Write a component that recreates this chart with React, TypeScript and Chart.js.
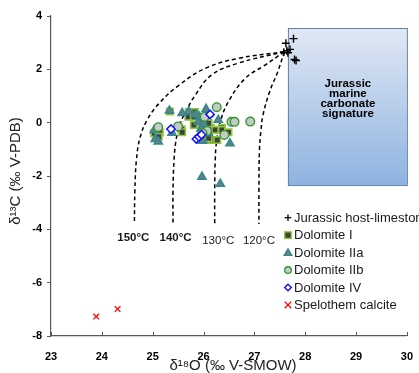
import { useEffect, useRef } from 'react';
import { Chart, registerables } from 'chart.js';
Chart.register(...registerables);

const xRange = [23, 30];
const yRange = [-8, 4];

const limestone = [[27.77, 3.15], [27.62, 2.98], [27.64, 2.70], [27.58, 2.64], [27.70, 2.75], [27.66, 2.62], [27.82, 2.33], [27.79, 2.37]];
const dolomiteI = [[25.34, 0.42], [25.71, 0.40], [25.83, 0.40], [25.70, 0.22], [25.81, 0.22], [25.81, -0.09], [25.93, 0.05], [25.03, -0.40], [25.14, -0.36], [25.12, -0.53], [25.57, -0.25], [25.58, -0.36], [26.14, -0.19], [26.23, -0.27], [26.36, -0.19], [26.36, -0.27], [26.49, -0.36], [26.04, -0.65], [26.16, -0.65], [26.27, -0.65], [26.10, -0.59], [26.00, -0.15], [25.90, -0.62], [26.10, -0.02]];
const dolomiteIIa = [[25.33, 0.45], [25.58, 0.36], [25.71, 0.42], [25.84, 0.30], [26.05, 0.51], [25.92, 0.22], [25.97, 0.10], [26.29, 0.10], [25.90, 0.02], [26.00, -0.05], [25.05, -0.62], [25.11, -0.71], [25.38, -0.38], [25.95, -0.22], [25.93, -0.48], [25.98, -0.68], [26.52, -0.78], [25.97, -2.03], [26.33, -2.30], [25.03, -0.28], [26.10, -0.40]];
const dolomiteIIb = [[26.26, 0.58], [26.55, 0.03], [26.61, 0.03], [26.92, 0.04], [25.11, -0.17], [25.50, -0.14], [26.41, -0.46], [26.07, -0.31], [26.02, 0.22], [25.98, -0.40]];
const dolomiteIV = [[26.13, 0.31], [25.36, -0.24], [25.86, -0.61], [25.91, -0.53], [25.96, -0.45]];
const speleothem = [[23.89, -7.27], [24.31, -6.99]];

const curve150 = [[27.59, 2.66], [26.68, 2.41], [26.04, 2.04], [25.52, 1.41], [25.13, 0.73], [24.89, 0.10], [24.75, -0.57], [24.68, -1.40], [24.65, -2.52], [24.64, -3.80]];
const curve140 = [[27.59, 2.66], [26.68, 2.23], [26.16, 1.79], [25.84, 1.04], [25.65, 0.41], [25.53, -0.09], [25.46, -0.65], [25.42, -1.40], [25.40, -2.52], [25.40, -3.80]];
const curve130 = [[27.59, 2.66], [27.21, 2.16], [26.82, 1.66], [26.49, 0.79], [26.33, 0.04], [26.26, -0.65], [26.23, -1.40], [26.22, -2.52], [26.22, -3.80]];
const curve120 = [[27.59, 2.66], [27.46, 1.91], [27.30, 1.16], [27.17, 0.29], [27.13, -0.28], [27.10, -1.02], [27.09, -2.52], [27.09, -3.80]];

const tempLabels = ['150°C', '140°C', '130°C', '120°C'];
const tempLabelX = [24.62, 25.45, 26.29, 27.09];
const tempLabelY = [-4.31, -4.31, -4.44, -4.44];
const tempLabelBold = [true, true, false, false];

const boxX = [27.66, 30];
const boxY = [3.55, -2.34];
const boxLines = ['Jurassic', 'marine', 'carbonate', 'signature'];

const legendLabels = ['Jurassic host-limestone', 'Dolomite I', 'Dolomite IIa', 'Dolomite IIb', 'Dolomite IV', 'Spelothem calcite'];

const toXY = (a: number[][]) => a.map(([x, y]) => ({ x, y }));

const styles = {
  lime: { pointStyle: 'cross', pointRadius: 4, borderColor: '#000', backgroundColor: '#000', pointBorderWidth: 1.4 },
  d1: { pointStyle: 'rect', pointRadius: 4.6, borderColor: '#92c83e', backgroundColor: '#404040', pointBorderWidth: 1.6 },
  d2a: { pointStyle: 'triangle', pointRadius: 4.6, borderColor: '#2e8b94', backgroundColor: '#7a7a7a', pointBorderWidth: 1.6 },
  d2b: { pointStyle: 'circle', pointRadius: 4.3, borderColor: '#2e9a2e', backgroundColor: '#c8c8c8', pointBorderWidth: 1.4 },
  d4: { pointStyle: 'rectRot', pointRadius: 4.2, borderColor: '#1010ff', backgroundColor: '#ffffff', pointBorderWidth: 1.5 },
  sp: { pointStyle: 'crossRot', pointRadius: 4, borderColor: '#ff0000', backgroundColor: '#ff0000', pointBorderWidth: 1.3 },
};

function drawSymbol(ctx: CanvasRenderingContext2D, kind: string, x: number, y: number) {
  ctx.save();
  const r = 3.3;
  if (kind === 'lime') {
    ctx.strokeStyle = '#000'; ctx.lineWidth = 1.3;
    ctx.beginPath(); ctx.moveTo(x - r, y); ctx.lineTo(x + r, y); ctx.moveTo(x, y - r); ctx.lineTo(x, y + r); ctx.stroke();
  } else if (kind === 'd1') {
    ctx.fillStyle = '#404040'; ctx.strokeStyle = '#92c83e'; ctx.lineWidth = 1.4;
    ctx.fillRect(x - r, y - r, 2 * r, 2 * r); ctx.strokeRect(x - r, y - r, 2 * r, 2 * r);
  } else if (kind === 'd2a') {
    ctx.fillStyle = '#7a7a7a'; ctx.strokeStyle = '#2e8b94'; ctx.lineWidth = 1.4;
    ctx.beginPath(); ctx.moveTo(x, y - r - 0.5); ctx.lineTo(x + r + 0.5, y + r - 0.5); ctx.lineTo(x - r - 0.5, y + r - 0.5); ctx.closePath(); ctx.fill(); ctx.stroke();
  } else if (kind === 'd2b') {
    ctx.fillStyle = '#c8c8c8'; ctx.strokeStyle = '#2e9a2e'; ctx.lineWidth = 1.3;
    ctx.beginPath(); ctx.arc(x, y, r, 0, Math.PI * 2); ctx.fill(); ctx.stroke();
  } else if (kind === 'd4') {
    ctx.fillStyle = '#fff'; ctx.strokeStyle = '#1010ff'; ctx.lineWidth = 1.4;
    ctx.beginPath(); ctx.moveTo(x, y - r); ctx.lineTo(x + r, y); ctx.lineTo(x, y + r); ctx.lineTo(x - r, y); ctx.closePath(); ctx.fill(); ctx.stroke();
  } else if (kind === 'sp') {
    ctx.strokeStyle = '#ff0000'; ctx.lineWidth = 1.3;
    ctx.beginPath(); ctx.moveTo(x - r, y - r); ctx.lineTo(x + r, y + r); ctx.moveTo(x + r, y - r); ctx.lineTo(x - r, y + r); ctx.stroke();
  }
  ctx.restore();
}

const legendKinds = ['lime', 'd1', 'd2a', 'd2b', 'd4', 'sp'];

const decorPlugin = {
  id: 'decor',
  beforeDatasetsDraw(chart: any) {
    const { ctx, scales } = chart;
    const xs = scales.x, ys = scales.y;
    const l = xs.getPixelForValue(boxX[0]);
    const r = xs.getPixelForValue(boxX[1]);
    const t = ys.getPixelForValue(boxY[0]);
    const b = ys.getPixelForValue(boxY[1]);
    ctx.save();
    const g = ctx.createLinearGradient(0, t, 0, b);
    g.addColorStop(0, '#e1e8f4');
    g.addColorStop(1, '#8eb3e0');
    ctx.fillStyle = g;
    ctx.fillRect(l, t, r - l, b - t);
    ctx.strokeStyle = '#5f82ad';
    ctx.lineWidth = 1;
    ctx.strokeRect(l + 0.5, t + 0.5, r - l, b - t);
    ctx.fillStyle = '#000';
    ctx.font = 'bold 11.5px "Liberation Sans", Arial, sans-serif';
    ctx.textAlign = 'center';
    ctx.textBaseline = 'middle';
    const cx = (l + r) / 2;
    boxLines.forEach((s, i) => ctx.fillText(s, cx + 0.5, 83.5 + i * 10.2));
    ctx.restore();
  },
  afterDraw(chart: any) {
    const { ctx, scales } = chart;
    const xs = scales.x, ys = scales.y;
    ctx.save();
    // inward x tick marks
    ctx.strokeStyle = '#595959';
    ctx.lineWidth = 1;
    xs.ticks.forEach((tk: any) => {
      const px = Math.round(xs.getPixelForValue(tk.value)) + 0.5;
      ctx.beginPath(); ctx.moveTo(px, ys.bottom); ctx.lineTo(px, ys.bottom - 4); ctx.stroke();
    });
    // temperature labels
    ctx.fillStyle = '#1a1a1a';
    ctx.textAlign = 'center';
    ctx.textBaseline = 'middle';
    tempLabels.forEach((s, i) => {
      ctx.font = (tempLabelBold[i] ? 'bold ' : '') + '11.5px "Liberation Sans", Arial, sans-serif';
      ctx.fillText(s, xs.getPixelForValue(tempLabelX[i]), ys.getPixelForValue(tempLabelY[i]));
    });
    // legend
    ctx.textAlign = 'left';
    ctx.font = '13px "Liberation Sans", Arial, sans-serif';
    legendLabels.forEach((s, i) => {
      const y = 217.7 + i * 17.45;
      drawSymbol(ctx, legendKinds[i], 288, y);
      ctx.fillStyle = '#1a1a1a';
      ctx.fillText(s, 294, y + 0.5);
    });
    // axis titles
    ctx.fillStyle = '#222';
    ctx.font = '15px "Liberation Sans", Arial, sans-serif';
    ctx.textAlign = 'center';
    ctx.fillText('δ¹⁸O (‰ V-SMOW)', 233, 366);
    ctx.translate(16, 171);
    ctx.rotate(-Math.PI / 2);
    ctx.fillText('δ¹³C (‰ V-PDB)', 0, 0);
    ctx.restore();
  },
};

const curveDs = (data: number[][]) => ({
  type: 'line',
  data: toXY(data),
  borderColor: '#000',
  borderWidth: 1.5,
  borderDash: [4, 3],
  pointRadius: 0,
  tension: 0.4,
  fill: false,
  order: 10,
});

export default function App() {
  const ref = useRef<HTMLCanvasElement>(null);
  useEffect(() => {
    document.body.style.margin = '0';
    const chart = new Chart(ref.current as HTMLCanvasElement, {
      type: 'scatter',
      data: {
        datasets: [
          curveDs(curve150) as any,
          curveDs(curve140) as any,
          curveDs(curve130) as any,
          curveDs(curve120) as any,
          { label: legendLabels[1], data: toXY(dolomiteI), ...styles.d1, order: 6 } as any,
          { label: legendLabels[2], data: toXY(dolomiteIIa), ...styles.d2a, order: 5 } as any,
          { label: legendLabels[3], data: toXY(dolomiteIIb), ...styles.d2b, order: 4 } as any,
          { label: legendLabels[4], data: toXY(dolomiteIV), ...styles.d4, order: 3 } as any,
          { label: legendLabels[0], data: toXY(limestone), ...styles.lime, order: 2 } as any,
          { label: legendLabels[5], data: toXY(speleothem), ...styles.sp, order: 1 } as any,
        ],
      },
      options: {
        animation: false,
        responsive: false,
        devicePixelRatio: 1,
        layout: { padding: { left: 0, top: 16, right: 9, bottom: 0 } },
        plugins: { legend: { display: false }, tooltip: { enabled: false } },
        scales: {
          x: {
            type: 'linear',
            min: xRange[0],
            max: xRange[1],
            ticks: { stepSize: 1, color: '#000', font: { family: '"Liberation Sans", Arial, sans-serif', size: 11, weight: 'bold' }, padding: 6 },
            grid: { display: false },
            border: { color: '#595959', width: 1.2 },
            afterFit: (s: any) => { s.height = 37; },
          },
          y: {
            type: 'linear',
            min: yRange[0],
            max: yRange[1],
            ticks: { stepSize: 2, color: '#000', font: { family: '"Liberation Sans", Arial, sans-serif', size: 11, weight: 'bold' }, padding: 5 },
            grid: { display: true, drawOnChartArea: false, drawTicks: true, tickLength: 4, color: '#595959' },
            border: { color: '#595959', width: 1.2 },
            afterFit: (s: any) => { s.width = 51; },
          },
        },
      } as any,
      plugins: [decorPlugin],
    });
    return () => chart.destroy();
  }, []);
  return <canvas ref={ref} width={419} height={373} style={{ display: 'block' }} />;
}
